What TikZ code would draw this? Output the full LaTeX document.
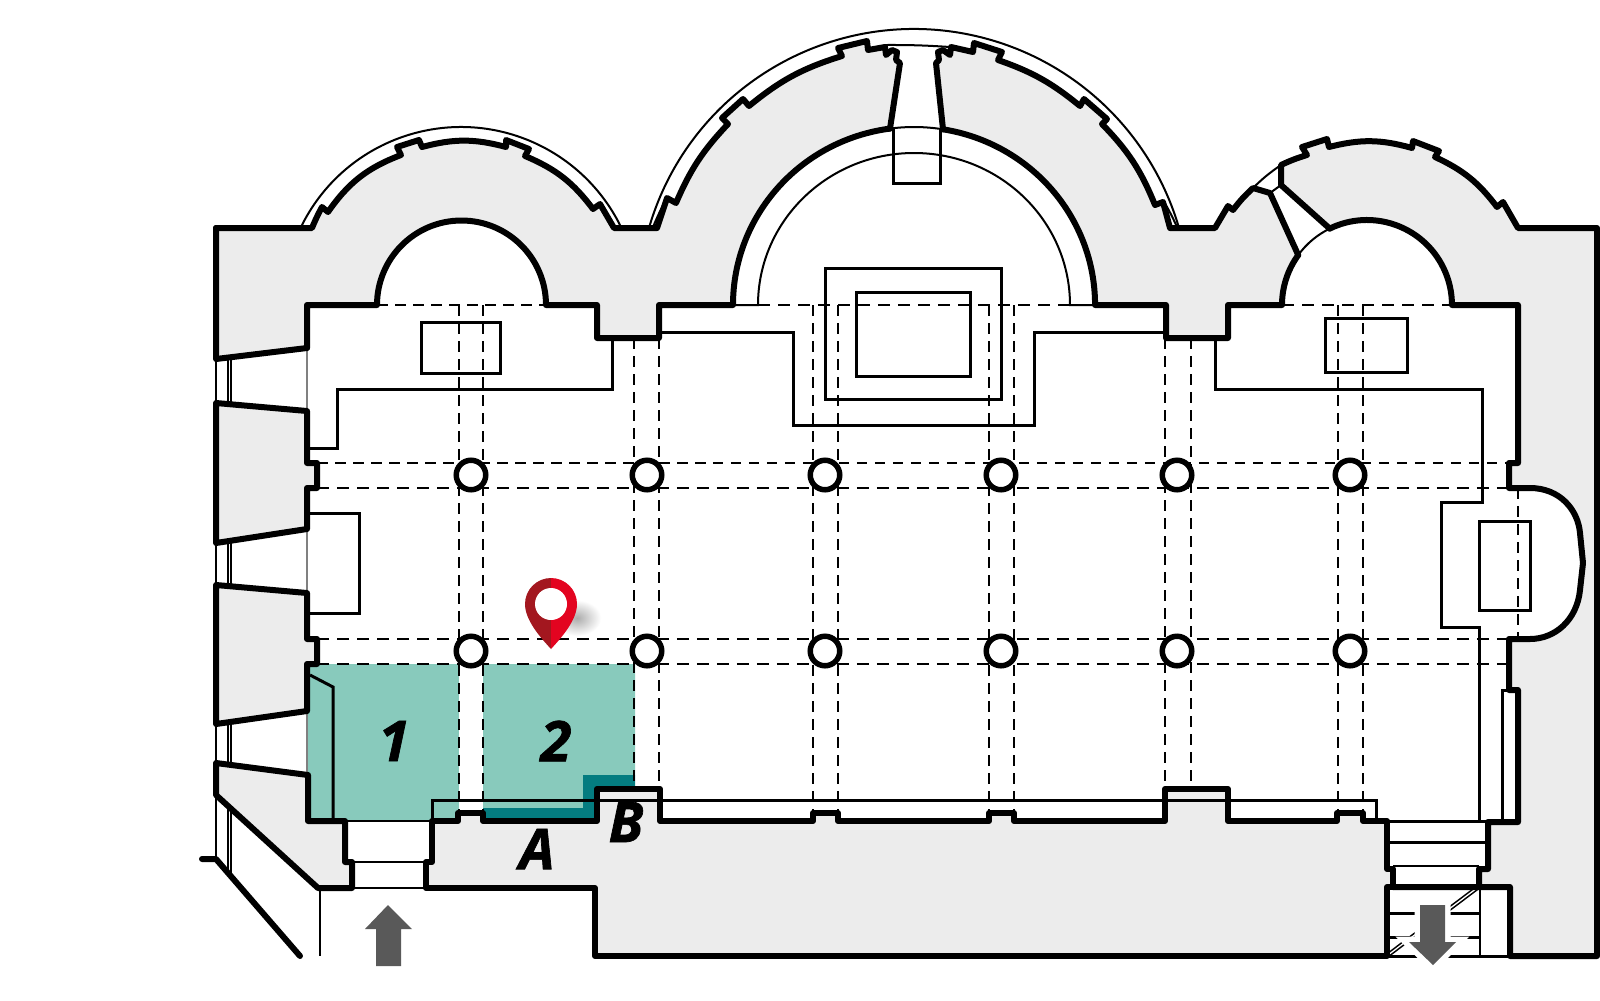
\documentclass[tikz,border=0pt]{standalone}
\usepackage{fontspec}
\setmainfont{Open Sans}
\newfontfamily\labelfont[BoldItalicFeatures={FakeBold=1.2}]{Open Sans}
\definecolor{wallgray}{HTML}{ECECEC}
\definecolor{roomteal}{HTML}{88CABC}
\definecolor{darkteal}{HTML}{047C80}
\definecolor{arrowgray}{HTML}{595959}
\definecolor{pindark}{HTML}{A3171F}
\definecolor{pinred}{HTML}{E30420}
\tikzset{
  wall/.style={line width=.6mm,line join=round,line cap=round},
  thinl/.style={line width=.2mm,line join=miter},
  midl/.style={line width=.3mm,line join=miter},
  dashl/.style={line width=.18mm,dash pattern=on 1.05mm off .75mm},
  dashh/.style={line width=.27mm,dash pattern=on 1.2mm off .8mm},
  pillar/.style={circle,draw,fill=white,line width=.55mm,minimum size=2.95mm,inner sep=0pt},
  numlabel/.style={font=\labelfont\bfseries\itshape\fontsize{16}{16}\selectfont,inner sep=0pt}
}
% outer line of the apses, in three parts
\def\outerA{(216,228)--(312,228) to[bend right=3] (322,207)--(328,212) to[bend right=17] (401,155)--(397,147)--(419,140)--(422,147)
  to[bend right=15] (506,147)--(506,140)--(529,149)--(525,156) to[bend right=15] (593,209)--(600,204)--(614,228)--(657,228)
  --(667,198)--(676,203) to[bend right=10] (728,124)--(722,118)--(743,99)--(749,106) to[bend right=11] (842,56)--(838,48)--(867,41)
  --(868,50)--(885,47)--(886,55)--(892,50)--(897,52)--(896,60)--(900,63)--(890,128.6)}
\def\outerB{(943,129.3)--(936,63)--(939,60)--(938,52)--(943,50)--(950,55)--(951,47)--(973,52)--(974,43)--(1002,52)--(998,60)
  to[bend right=10] (1080,106)--(1084,99)--(1107,119)--(1102,124) to[bend right=11] (1155,205)--(1163,202)--(1170,228)--(1215,228)
  --(1228,206)--(1233,210) to[bend right=5] (1253,188)--(1270,193)--(1298.2,255)}
\def\outerC{(1329.7,228.6)--(1281,185)--(1281,165) to[bend right=4] (1307,155)--(1302,147)--(1327,139)--(1329,147)
  to[bend right=15] (1412,148)--(1413,141)--(1439,151)--(1435,157) to[bend right=14] (1497,207)--(1503,202)--(1518,228)
  --(1597,228)--(1597,956)--(1510,956)--(1510,887)--(1393,887)}
% inner line of the church
\def\roomA{(307,348)--(307,305)--(377,305) arc[start angle=180,end angle=360,radius=84.5]--(597,305)--(597,338)--(659,338)--(659,305)
  --(733,305) arc[start angle=180,end angle=262.4,x radius=181,y radius=178]}
\def\roomB{(943,129.3) arc[start angle=279.2,end angle=360,x radius=181,y radius=178]--(1166,305)--(1166,338)--(1228,338)--(1228,305)
  --(1282,305) arc[start angle=180,end angle=216,radius=85]}
\def\roomC{(1329.7,228.6) arc[start angle=244,end angle=360,radius=85]--(1518,305)--(1518,463)--(1509,463)--(1509,488)--(1530,488)
  .. controls (1560,488) and (1578,510) .. (1580,533)--(1583,563)--(1580,590) .. controls (1577,620) and (1555,639) .. (1530,639)
  --(1509,639)--(1509,690)--(1518,690)--(1518,822)--(1488,822)--(1488,869)--(1479,869)--(1479,887)}
\def\roomfoot{(1393,887)--(1393,869)--(1387,869)--(1387,821)--(1363,821)--(1363,813)--(1337,813)--(1337,821)--(1228,821)--(1228,789)
  --(1165,789)--(1165,821)--(1014,821)--(1014,813)--(989,813)--(989,821)--(838,821)--(838,813)--(813,813)--(813,821)--(660,821)
  --(660,789)--(597,789)--(597,821)--(483,821)--(483,813)--(458,813)--(458,821)--(432,821)--(432,862)--(426,862)--(426,888)}
\def\exitpath{(1420,905) -- (1445,905) -- (1445,942) -- (1456,942) -- (1433,965) -- (1409,942) -- (1420,942) -- cycle}
\begin{document}
\begin{tikzpicture}[x=.1mm,y=.1mm,yscale=-1]
\useasboundingbox (0,0) rectangle (1600,1000);
% ground
\fill[wallgray] \outerA -- \outerB -- \outerC -- (1387,887)--(1387,956)--(595,956)--(595,888)--(318,888)--(216,795)--cycle;
\fill[white] \roomA -- \roomB -- \roomC -- \roomfoot --(352,888)--(352,862)--(345,862)--(345,821)--(308,821)--cycle;
\fill[white] (1387,887) rectangle (1510,956);
\fill[white] (216,359)--(307,348)--(307,411)--(216,403)--cycle;
\fill[white] (216,543)--(307,529)--(307,593)--(216,585)--cycle;
\fill[white] (216,724)--(307,711)--(308,775)--(216,763)--cycle;
% rooms
\fill[roomteal] (308,664) rectangle (459,821);
\fill[roomteal] (483,664)--(635,664)--(635,775)--(583,775)--(583,808)--(483,808)--cycle;
\fill[darkteal] (583,775)--(635,775)--(635,789)--(597,789)--(597,821)--(483,821)--(483,808)--(583,808)--cycle;
% dashed lines
\foreach \x/\a/\b in {459/305/813,483/305/813,634/338/789,659/338/789,813/305/813,838/305/813,989/305/813,1014/305/813,1165/338/789,1191/338/789,1338/305/813,1363/305/813}
{
  \draw[dashl] (\x,\a) -- (\x,\b);
}
\draw[dashl] (1518,488) -- (1518,639);
\draw[dashl] (317,463) -- (1509,463);
\draw[dashh] (317,488) -- (1509,488);
\draw[dashh] (317,639) -- (1509,639);
\draw[dashh] (317,664) -- (1509,664);
\draw[dashl] (377,305) -- (546,305);
\draw[dashh] (758,305) -- (1070,305);
\draw[dashh] (1282,305) -- (1452,305);
% thin lines
\draw[thinl] (733,305) -- (758,305) arc[start angle=180,end angle=360,x radius=156,y radius=152] -- (1095,305);
\draw[thinl] (461,305) ++(205.6:178) arc[start angle=205.6,end angle=334.4,radius=178];
\draw[thinl] (914,305) ++(196.4:276) arc[start angle=196.4,end angle=343.6,radius=276];
\draw[thinl] (653,227) to[bend right=3] (667,198);
\draw[thinl] (1163,200) to[bend right=3] (1177,227);
\draw[thinl] (885,45) to[bend right=2] (950,47);
\draw[thinl] (914,305) ++(262.4:181 and 178) arc[start angle=262.4,end angle=279.2,x radius=181,y radius=178];
\draw[thinl] (1367,305) ++(216:85) arc[start angle=216,end angle=244,radius=85];
\draw[thinl] (1253,188) to[bend right=5] (1281,165);
\draw[thinl] (1270,193) -- (1281,185);
\draw[midl] (893,129) -- (893,183) -- (940,183) -- (940,129);
\draw[midl] (825,268) rectangle (1001,399);
\draw[midl] (856,292) rectangle (970,376);
\draw[midl] (659,332) -- (793,332) -- (793,425) -- (1034,425) -- (1034,332) -- (1166,332);
\draw[midl] (421,322) rectangle (500,373);
\draw[midl] (612,338) -- (612,389) -- (337,389) -- (337,448) -- (309,448);
\draw[midl] (309,513) -- (359,513) -- (359,613) -- (309,613);
\draw[midl] (1325,318) rectangle (1407,372);
\draw[midl] (1215,338) -- (1215,389) -- (1482,389) -- (1482,502) -- (1441,502) -- (1441,627) -- (1479,627) -- (1479,822);
\draw[midl] (1479,521) rectangle (1530,610);
\draw[midl] (1518,690) -- (1502,690) -- (1502,822);
\draw[midl] (310,675) -- (333,687) -- (333,821);
\draw[midl] (432,821) -- (432,800) -- (1376,800) -- (1376,821);
\draw[thinl] (345,821) -- (432,821);
\draw[thinl] (352,862) -- (426,862);
\draw[thinl] (352,888) -- (426,888);
\draw[thinl] (320,888) -- (320,956);
% windows
\foreach \a/\b in {348/411,529/593,711/775}
{
  \draw[thinl,gray] (307,\a) -- (307,\b);
}
\foreach \a/\b in {359/403,543/585,724/763}
{
  \draw[thinl] (216,\a) -- (216,\b);
  \draw[thinl] (228,\a-2) -- (228,\b+1);
  \draw[thinl] (231,\a-2) -- (231,\b+1);
}
\draw[thinl] (216,795) -- (216,859);
\draw[thinl] (228,806) -- (228,872);
\draw[thinl] (231,809) -- (231,875);
% stairs
\draw[midl] (1387,821) -- (1488,821);
\draw[midl] (1387,842) -- (1488,842);
\draw[thinl] (1393,866) -- (1479,866);
\draw[midl] (1387,913) -- (1480,913);
\draw[midl] (1387,937) -- (1480,937);
\draw[thinl] (1480,887) -- (1480,956);
\draw[midl] (1387,956) -- (1510,956);
\draw[line width=.45mm] (1477,888) -- (1388,955);
\draw[white,line width=.13mm] (1477,888) -- (1388,955);
% walls
\draw[wall] \outerA;
\draw[wall] \outerB;
\draw[wall] \outerC;
\draw[wall] \roomA;
\draw[wall] \roomB;
\draw[wall] \roomC;
\draw[wall] (216,228) -- (216,359) -- (307,348);
\draw[wall,fill=wallgray] (307,411)--(216,403)--(216,543)--(307,529)--(307,488)--(317,488)--(317,463)--(307,463)--cycle;
\draw[wall,fill=wallgray] (307,593)--(216,585)--(216,724)--(307,711)--(307,664)--(317,664)--(317,639)--(307,639)--cycle;
\draw[wall] (308,775)--(216,763)--(216,795)--(318,888)--(352,888)--(352,862)--(345,862)--(345,821)--(308,821)--cycle;
\draw[wall] \roomfoot --(595,888)--(595,956)--(1387,956)--(1387,887)--(1393,887);
\draw[wall] (202,859) -- (216,859) -- (300,956);
% pillars
\foreach \x/\n in {471/a,647/b,825/c,1001/d,1177/e,1350/f}
{
  \node[pillar] (pil\n1) at (\x,475) {};
  \node[pillar] (pil\n2) at (\x,651) {};
}
% arrows
\draw[white,line width=1.1mm,line join=miter] \exitpath;
\fill[arrowgray] \exitpath;
\fill[arrowgray] (376,966) -- (401,966) -- (401,929) -- (412,929) -- (388,905) -- (365,929) -- (376,929) -- cycle;
% pin
\shade[inner color=gray!65,outer color=white] (577,618) ellipse (24 and 18);
\fill[pindark] (551,578) arc[start angle=270,end angle=180,radius=26] .. controls (525,620) and (540,637) .. (551,649) -- cycle;
\fill[pinred] (551,578) arc[start angle=270,end angle=360,radius=26] .. controls (577,620) and (562,637) .. (551,649) -- cycle;
\fill[white] (551,604) circle (16);
% labels
\node[numlabel] (num1) at (394,741) {1};
\node[numlabel] (num2) at (556,741) {2};
\node[numlabel] (labA) at (537,849) {A};
\node[numlabel] (labB) at (626,822) {B};
\end{tikzpicture}
\end{document}
